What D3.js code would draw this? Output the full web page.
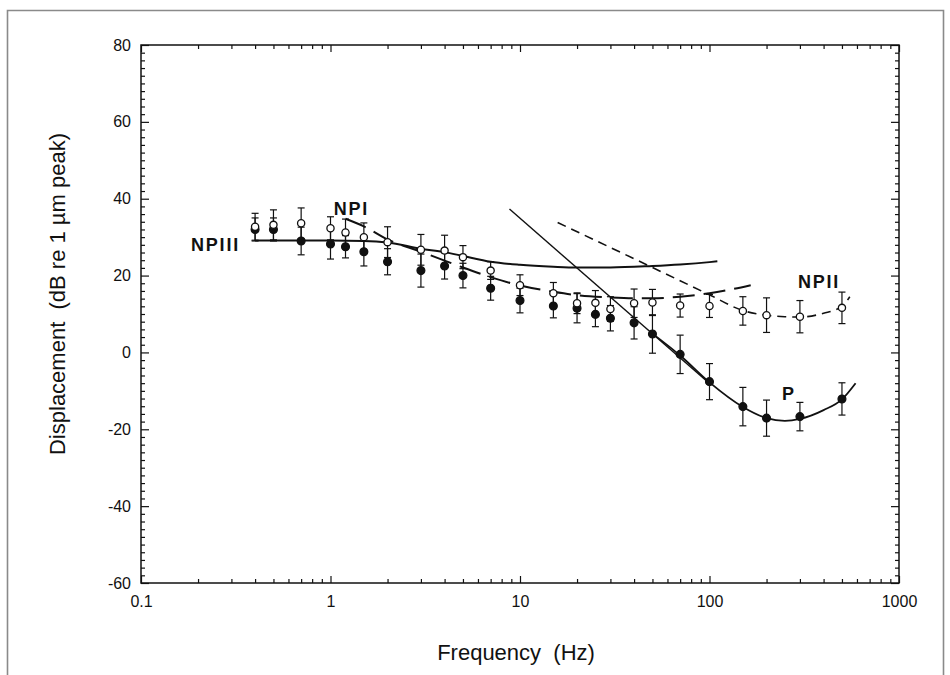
<!DOCTYPE html>
<html>
<head>
<meta charset="utf-8">
<script src="https://cdn.jsdelivr.net/npm/d3@7"></script>
<style>
  body { margin: 0; background: #fff; }
  svg text { font-family: "Liberation Sans", Arial, Helvetica, sans-serif; fill: #111; }
</style>
</head>
<body>
<div class="canvas"></div>
<script>
// measured points (Hz / dB)
const freqs = [0.4, 0.5, 0.7, 1, 1.2, 1.5, 2, 3, 4, 5, 7, 10, 15, 20, 25, 30, 40, 50, 70, 100, 150, 200, 300, 500];
const openVals = [32.7, 33.2, 33.6, 32.3, 31.2, 30.0, 28.7, 26.7, 26.5, 24.8, 21.3, 17.5, 15.4, 12.8, 12.9, 11.3, 12.8, 13.0, 12.2, 12.1, 10.8, 9.7, 9.3, 11.6];
const openErr = [3.5, 3.9, 4, 3, 3.5, 3.7, 4, 4, 4, 3, 2.3, 2.7, 2.8, 2.7, 3.2, 3.2, 3.7, 3.4, 3, 3, 3.7, 4.5, 4.2, 4.1];
const filledVals = [32.0, 32.0, 29.0, 28.2, 27.5, 26.2, 23.6, 21.3, 22.5, 20.0, 16.7, 13.5, 12.1, 11.5, 9.9, 8.9, 7.7, 4.8, -0.5, -7.6, -14.1, -17.1, -16.7, -12.1];
const filledErr = [3, 3, 3.6, 3.9, 2.9, 3.7, 3.4, 4.3, 3.4, 3.2, 3.1, 3.2, 3.1, 3.8, 3.2, 3.3, 4.2, 5, 5, 4.7, 5, 4.7, 3.7, 4.2];

// model curves
const npiiiF = [0.4, 0.7, 1, 1.5, 2, 3, 4, 5, 7, 10, 15, 20, 30, 50, 70, 100, 110];
const npiiiV = [29.1, 29.1, 29.1, 29.0, 28.6, 27.0, 26.1, 25.1, 23.6, 22.8, 22.3, 22.1, 22.1, 22.5, 22.9, 23.5, 23.7];
const npiF = [1.2, 1.5, 2, 3, 4, 5, 7, 10, 15, 20, 30, 40, 50, 70, 100, 130, 165];
const npiV = [34.8, 32.8, 29.4, 26.2, 23.9, 22.1, 19.6, 17.4, 15.8, 14.9, 14.3, 14.1, 14.1, 14.5, 15.4, 16.4, 17.5];
const npiiF = [15.8, 50, 100, 150, 200, 250, 300, 400, 500, 550];
const npiiV = [33.8, 22.1, 15.0, 10.9, 9.7, 9.3, 9.2, 10.2, 12.0, 14.5];
const slopeF = [8.8, 100];
const slopeV = [37.3, -8.1];
const pF = [50, 70, 100, 150, 200, 250, 300, 400, 500, 590];
const pV = [4.9, -0.8, -7.8, -14.2, -17.1, -17.8, -17.3, -15.0, -12.2, -8.0];

// ticks
const xMajor = [0.1, 1, 10, 100, 1000];
const yMajor = [-60, -40, -20, 0, 20, 40, 60, 80];
const curveLabels = [
    {text: 'NPIII', f: 0.333, v: 26.4, anchor: 'end'},
    {text: 'NPI', f: 1.04, v: 35.8, anchor: 'start'},
    {text: 'NPII', f: 293, v: 16.8, anchor: 'start'},
    {text: 'P', f: 241, v: -12.4, anchor: 'start'}
];

const svg = d3.select('.canvas')
    .append('svg')
        .attr('width', 950)
        .attr('height', 675);

// page border
svg.append('path')
    .attr('d', 'M7.5,680 V10.5 H943.5 V680')
    .attr('fill', 'none')
    .attr('stroke', '#8a8a8a')
    .attr('stroke-width', 1.6);

const margin = {top: 45, right: 51, bottom: 92, left: 141};
const graphWidth = 950 - margin.left - margin.right;
const graphHeight = 675 - margin.top - margin.bottom;

const graph = svg.append('g')
    .attr('transform', `translate(${margin.left},${margin.top})`);

const x = d3.scaleLog()
    .domain([0.1, 1000])
    .range([0, graphWidth]);

const y = d3.scaleLinear()
    .domain([-60, 80])
    .range([graphHeight, 0]);

const xMinor = [];
[0.1, 1, 10, 100].forEach(d => { for (let k = 2; k <= 9; k++) xMinor.push(d * k); });
const yMinor = d3.range(-60, 81, 2).filter(d => d % 20 !== 0);

// frame ticks, all pointing inward
const addAxis = (axis, transform) => {
    const g = graph.append('g').attr('transform', transform).call(axis);
    g.select('.domain').remove();
    g.selectAll('line').attr('stroke', '#111').attr('stroke-width', 1.2);
    g.selectAll('text').attr('font-size', 16);
    return g;
};

addAxis(d3.axisBottom(x).tickValues(xMajor).tickSizeInner(-7).tickSizeOuter(0).tickPadding(13).tickFormat(d => String(d)),
    `translate(0,${graphHeight})`);
addAxis(d3.axisBottom(x).tickValues(xMinor).tickSizeInner(-4).tickSizeOuter(0).tickFormat(''),
    `translate(0,${graphHeight})`);
addAxis(d3.axisTop(x).tickValues(xMajor).tickSizeInner(-7).tickSizeOuter(0).tickFormat(''), 'translate(0,0)');
addAxis(d3.axisTop(x).tickValues(xMinor).tickSizeInner(-4).tickSizeOuter(0).tickFormat(''), 'translate(0,0)');

addAxis(d3.axisLeft(y).tickValues(yMajor).tickSizeInner(-8).tickSizeOuter(0).tickPadding(10).tickFormat(d => String(d)), 'translate(0,0)');
addAxis(d3.axisLeft(y).tickValues(yMinor).tickSizeInner(-4).tickSizeOuter(0).tickFormat(''), 'translate(0,0)');
addAxis(d3.axisRight(y).tickValues(yMajor).tickSizeInner(-8).tickSizeOuter(0).tickFormat(''), `translate(${graphWidth},0)`);
addAxis(d3.axisRight(y).tickValues(yMinor).tickSizeInner(-4).tickSizeOuter(0).tickFormat(''), `translate(${graphWidth},0)`);

graph.append('rect')
    .attr('width', graphWidth)
    .attr('height', graphHeight)
    .attr('fill', 'none')
    .attr('stroke', '#111')
    .attr('stroke-width', 1.5);

// curves
const line = d3.line()
    .x(d => x(d[0]))
    .y(d => y(d[1]))
    .curve(d3.curveMonotoneX);

const curves = [
    {f: npiiiF, v: npiiiV, dash: null, w: 2},
    {f: npiF, v: npiV, dash: '22,9', w: 2},
    {f: npiiF, v: npiiV, dash: '9,6', w: 1.6},
    {f: slopeF, v: slopeV, dash: null, w: 1.4},
    {f: pF, v: pV, dash: null, w: 1.8}
];

curves.forEach(c => {
    graph.append('path')
        .datum(c.f.map((f, i) => [f, c.v[i]]))
        .attr('d', line)
        .attr('fill', 'none')
        .attr('stroke', '#111')
        .attr('stroke-width', c.w)
        .attr('stroke-dasharray', c.dash);
});

// error bars + symbols
const drawSeries = (vals, errs, filled) => {
    const data = freqs.map((f, i) => ({f, v: vals[i], e: errs[i]}));
    const g = graph.append('g');
    const bars = g.selectAll('g.bar').data(data).enter().append('g');
    bars.append('line')
        .attr('x1', d => x(d.f)).attr('x2', d => x(d.f))
        .attr('y1', d => y(d.v + d.e)).attr('y2', d => y(d.v - d.e));
    [1, -1].forEach(s => {
        bars.append('line')
            .attr('x1', d => x(d.f) - 3.5).attr('x2', d => x(d.f) + 3.5)
            .attr('y1', d => y(d.v + s * d.e)).attr('y2', d => y(d.v + s * d.e));
    });
    bars.selectAll('line').attr('stroke', '#111').attr('stroke-width', 1.2);
    g.selectAll('circle').data(data).enter().append('circle')
        .attr('cx', d => x(d.f))
        .attr('cy', d => y(d.v))
        .attr('r', filled ? 3.9 : 3.6)
        .attr('fill', filled ? '#111' : '#fff')
        .attr('stroke', '#111')
        .attr('stroke-width', 1.3);
};

drawSeries(filledVals, filledErr, true);
drawSeries(openVals, openErr, false);

// curve labels
graph.selectAll('text.curve-label')
    .data(curveLabels)
    .enter()
    .append('text')
        .attr('class', 'curve-label')
        .attr('x', d => x(d.f))
        .attr('y', d => y(d.v))
        .attr('text-anchor', d => d.anchor)
        .attr('font-size', 18)
        .attr('font-weight', 'bold')
        .attr('letter-spacing', 1.8)
        .text(d => d.text);

// axis titles
svg.append('text')
    .attr('x', margin.left + graphWidth / 2 - 4)
    .attr('y', 660)
    .attr('text-anchor', 'middle')
    .attr('font-size', 22)
    .style('white-space', 'pre')
    .text('Frequency  (Hz)');

svg.append('text')
    .attr('transform', 'translate(65,294) rotate(-90)')
    .attr('text-anchor', 'middle')
    .attr('font-size', 22)
    .style('white-space', 'pre')
    .text('Displacement  (dB re 1 µm peak)');
</script>
</body>
</html>
